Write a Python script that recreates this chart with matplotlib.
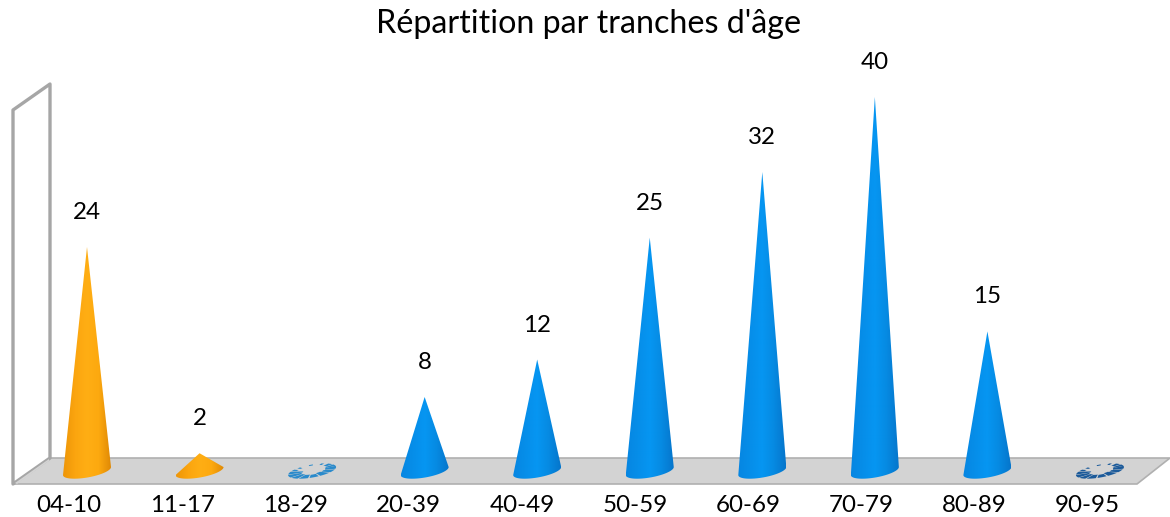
"""
Cone chart of patients per age band, drawn on a pseudo 3D floor and wall.
Saves out.png (1170x517).
"""

import numpy as np
import matplotlib
matplotlib.use("Agg")
import matplotlib.pyplot as plt
from matplotlib.colors import LinearSegmentedColormap
from matplotlib.patches import Polygon

categories = ["04-10", "11-17", "18-29", "20-39", "40-49",
              "50-59", "60-69", "70-79", "80-89", "90-95"]
values = [24, 2, 0, 8, 12, 25, 32, 40, 15, 0]
cone_groups = ["orange", "orange", "blue", "blue", "blue",
               "blue", "blue", "blue", "blue", "navy"]
title = "Répartition par tranches d'âge"

plt.rcParams["font.family"] = ["Lato", "DejaVu Sans"]

W, H = 1170, 517
X0, DX = 87.0, 112.55   # pixel position of category 0, pixels per category
Y0, DY = 472.0, 9.375   # pixel position of value 0, pixels per unit

RAMPS = {
    "orange": ["#ee9608", "#fba50f", "#ffae14", "#fda90f", "#e08a06"],
    "blue": ["#0686e2", "#068ee9", "#0696f2", "#068ae2", "#0676cc"],
}
STAR = {"blue": "#2a8acb", "navy": "#1b5a9a"}
GRID = "#a6a6a6"
# broken ring left by a zero height cone: start angle, sweep, inner radius
SLIVERS = [(-12, 26, 0.55), (18, 22, 0.50), (44, 26, 0.45), (74, 22, 0.55),
           (100, 24, 0.50), (128, 22, 0.45), (154, 26, 0.45), (184, 22, 0.40),
           (210, 12, 0.75), (232, 8, 0.80), (262, 10, 0.85), (292, 8, 0.80),
           (312, 16, 0.70), (332, 16, 0.60)]


def px(x, y):
    """Pixel position in the reference -> data coordinates."""
    return (x - X0) / DX, (Y0 - y) / DY


def base_ring(i, t, scale=1.0):
    # tilted ellipse under a cone, in data coordinates
    x = i + scale * (24.0 / DX) * np.cos(t)
    y = 0.1 + scale * (4.0 * np.cos(t) - 6.5 * np.sin(t)) / DY
    return x, y


fig = plt.figure(figsize=(W / 100, H / 100), dpi=100)
ax = fig.add_axes([0, 0, 1, 1])
ax.set_xlim(px(0, 0)[0], px(W, 0)[0])
ax.set_ylim(px(0, H)[1], px(0, 0)[1])
ax.axis("off")

# floor and left wall
floor = [px(13, 484), px(50, 458), px(1170, 458), px(1137, 484)]
wall = [px(13, 484), px(13, 110), px(50, 84), px(50, 458)]
ax.add_patch(Polygon(floor, closed=True, fc="#d3d3d3", ec="#b0b0b0", lw=1.2, zorder=1))
ax.add_patch(Polygon(wall, closed=True, fc="white", ec=GRID, lw=2.4,
                     joinstyle="round", zorder=2))
ax.add_patch(Polygon([px(15, 483), px(49, 459), px(49, 461), px(17, 484)], closed=True,
                     fc="#d3d3d3", ec="none", zorder=2))

angles = np.linspace(0, 2 * np.pi, 120)
for i, (val, group) in enumerate(zip(values, cone_groups)):
    if val == 0:
        for start, sweep, inner_r in SLIVERS:
            t = np.radians(np.linspace(start, start + sweep, 5))
            outer = np.column_stack(base_ring(i, t, 1.0))
            inner = np.column_stack(base_ring(i, t[::-1], inner_r))
            ax.add_patch(Polygon(np.vstack([outer, inner]), closed=True,
                                 fc=STAR[group], ec="none", zorder=3))
        continue

    ring_x, ring_y = base_ring(i, angles)
    t_low = np.linspace(0, np.pi, 60)   # front half of the ring
    low_x, low_y = base_ring(i, t_low)
    outline = np.vstack([[i, val], np.column_stack([low_x, low_y])])
    shape = Polygon(outline, closed=True, transform=ax.transData, fc="none", ec="none")
    ax.add_patch(shape)

    cmap = LinearSegmentedColormap.from_list(group, RAMPS[group])
    img = ax.imshow(np.linspace(0, 1, 64).reshape(1, -1), cmap=cmap, aspect="auto",
                    extent=(ring_x.min(), ring_x.max(), ring_y.min(), val),
                    interpolation="bilinear", zorder=3)
    img.set_clip_path(shape)

ax.set_xlim(px(0, 0)[0], px(W, 0)[0])
ax.set_ylim(px(0, H)[1], px(0, 0)[1])

# value labels sit above the apex, zero values have none
for i, val in enumerate(values):
    if val > 0:
        ax.annotate(str(val), (i, val), xytext=(0, 34.5 * 0.72), textcoords="offset points",
                    ha="center", va="center", fontsize=17.4, color="black", zorder=5)

# category labels are shifted left of the cones, along the front edge
for i, label in enumerate(categories):
    ax.text(px(69 + 113.2 * i, 0)[0], px(0, 505)[1], label, ha="center", va="center",
            fontsize=17.4, color="black", zorder=5)

ax.text(px(589, 0)[0], px(0, 24)[1], title, ha="center", va="center",
        fontsize=23.2, color="black", zorder=5)

fig.savefig("out.png", dpi=100)
plt.close(fig)
